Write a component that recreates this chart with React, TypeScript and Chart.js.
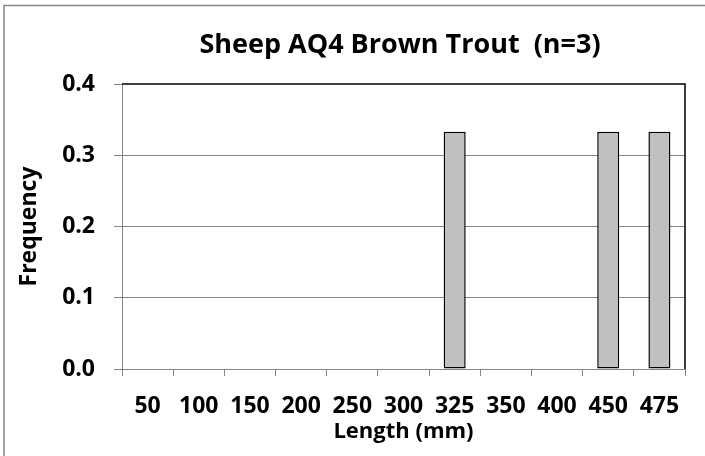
import React, { useEffect, useRef } from "react";
import { Chart, registerables } from "chart.js";

Chart.register(...registerables);

const chartTitle = "Sheep AQ4 Brown Trout  (n=3)";
const xAxisTitle = "Length (mm)";
const yAxisTitle = "Frequency";
const categories = ["50", "100", "150", "200", "250", "300", "325", "350", "400", "450", "475"];
const frequency = [0, 0, 0, 0, 0, 0, 0.333, 0, 0, 0.333, 0.333];
const yMin = 0;
const yMax = 0.4;
const yStep = 0.1;

const FONT = '"Open Sans", Lato, sans-serif';
const GREY = "#868686";

const decorPlugin = {
  id: "decor",
  afterDraw(chart: any) {
    const ctx = chart.ctx;
    const a = chart.chartArea;
    ctx.save();
    // outer frame (left & top visible)
    ctx.strokeStyle = GREY;
    ctx.lineWidth = 1.5;
    ctx.beginPath();
    ctx.moveTo(4, 460);
    ctx.lineTo(4, 5.5);
    ctx.lineTo(710, 5.5);
    ctx.stroke();
    // plot area border top & right
    ctx.strokeStyle = "#000";
    ctx.lineWidth = 1.5;
    ctx.beginPath();
    ctx.moveTo(a.left, a.top);
    ctx.lineTo(a.right, a.top);
    ctx.lineTo(a.right, a.bottom);
    ctx.stroke();
    // title
    ctx.fillStyle = "#000";
    ctx.font = `bold 27px ${FONT}`;
    ctx.textAlign = "center";
    ctx.textBaseline = "alphabetic";
    ctx.fillText(chartTitle, 400, 53);
    ctx.restore();
  },
};

export default function App() {
  const ref = useRef<HTMLCanvasElement>(null);
  useEffect(() => {
    if (!ref.current) return;
    const chart = new Chart(ref.current, {
      type: "bar",
      data: {
        labels: categories,
        datasets: [
          {
            data: frequency,
            backgroundColor: "#c0c0c0",
            borderColor: "#000",
            borderWidth: 1.5,
            borderSkipped: false,
            barPercentage: 0.43,
            categoryPercentage: 1,
          },
        ],
      },
      options: {
        responsive: false,
        animation: false,
        layout: { padding: { top: 84, right: 20, left: 0, bottom: 0 } },
        plugins: { legend: { display: false }, tooltip: { enabled: false }, title: { display: false } },
        scales: {
          x: {
            afterFit: (s: any) => {
              s.height = 87;
            },
            grid: { drawOnChartArea: false, offset: true, tickLength: 7, color: GREY, tickColor: GREY },
            border: { display: true, color: GREY, width: 1 },
            ticks: { color: "#000", font: { family: FONT, size: 23, weight: "bold" }, padding: 17, maxRotation: 0, autoSkip: false },
            title: {
              display: true,
              text: xAxisTitle,
              color: "#000",
              font: { family: FONT, size: 22, weight: "bold" },
              padding: { top: 0, bottom: 11 },
            },
          },
          y: {
            min: yMin,
            max: yMax,
            afterFit: (s: any) => {
              s.width = 122;
            },
            grid: {
              color: (c: any) => (c.tick && Math.abs(c.tick.value - yMax) < 1e-9 ? "rgba(0,0,0,0)" : GREY),
              tickColor: GREY,
              tickLength: 8,
            },
            border: { display: true, color: GREY, width: 1 },
            ticks: {
              stepSize: yStep,
              color: "#000",
              font: { family: FONT, size: 23, weight: "bold" },
              padding: 19,
              callback: (v: any) => Number(v).toFixed(1),
            },
            title: {
              display: true,
              text: yAxisTitle,
              color: "#000",
              font: { family: FONT, size: 23, weight: "bold" },
              padding: { top: 16, bottom: 0 },
            },
          },
        },
      },
      plugins: [decorPlugin],
    });
    return () => chart.destroy();
  }, []);
  return (
    <div style={{ position: "absolute", left: 0, top: 0, width: 705, height: 456, background: "#fff" }}>
      <canvas ref={ref} width={705} height={456} style={{ display: "block" }} />
    </div>
  );
}
